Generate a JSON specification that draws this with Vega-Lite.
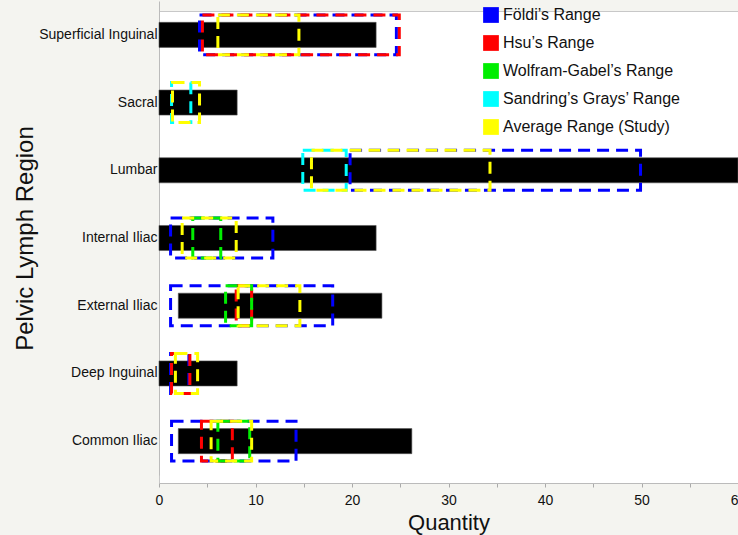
{
  "$schema": "https://vega.github.io/schema/vega-lite/v6.json",
  "width": 579,
  "height": 472,
  "autosize": {"type": "none"},
  "padding": {"left": 159, "top": 11, "right": 0, "bottom": 52},
  "background": "#f4f4f0",
  "config": {
    "view": {"fill": "white", "stroke": "#c8c8c8"},
    "font": "Liberation Sans"
  },
  "datasets": {
    "bars": [
      {"region": "Superficial Inguinal", "start": 0, "end": 22.5},
      {"region": "Sacral", "start": 0, "end": 8.1},
      {"region": "Lumbar", "start": 0, "end": 60},
      {"region": "Internal Iliac", "start": 0, "end": 22.5},
      {"region": "External Iliac", "start": 2, "end": 23.1},
      {"region": "Deep Inguinal", "start": 0, "end": 8.1},
      {"region": "Common Iliac", "start": 2, "end": 26.2}
    ],
    "ranges": [
      {"region": "Superficial Inguinal", "source": "Földi’s Range", "low": 4.2, "high": 24.6},
      {"region": "Lumbar", "source": "Földi’s Range", "low": 19.8, "high": 49.9},
      {"region": "Internal Iliac", "source": "Földi’s Range", "low": 1.2, "high": 11.8},
      {"region": "External Iliac", "source": "Földi’s Range", "low": 1.2, "high": 18},
      {"region": "Deep Inguinal", "source": "Földi’s Range", "low": 1.2, "high": 3.1},
      {"region": "Common Iliac", "source": "Földi’s Range", "low": 1.3, "high": 14.2},
      {"region": "Superficial Inguinal", "source": "Hsu’s Range", "low": 4.5, "high": 24.9},
      {"region": "External Iliac", "source": "Hsu’s Range", "low": 8, "high": 9.6},
      {"region": "Deep Inguinal", "source": "Hsu’s Range", "low": 1.3, "high": 3.2},
      {"region": "Common Iliac", "source": "Hsu’s Range", "low": 4.4, "high": 7.6},
      {"region": "Internal Iliac", "source": "Wolfram-Gabel’s Range", "low": 3.5, "high": 6.4},
      {"region": "External Iliac", "source": "Wolfram-Gabel’s Range", "low": 6.9, "high": 9.6},
      {"region": "Common Iliac", "source": "Wolfram-Gabel’s Range", "low": 6.1, "high": 9.4},
      {"region": "Sacral", "source": "Sandring’s Grays’ Range", "low": 1.3, "high": 3.3},
      {"region": "Lumbar", "source": "Sandring’s Grays’ Range", "low": 14.9, "high": 19.4},
      {"region": "Superficial Inguinal", "source": "Average Range (Study)", "low": 6.1, "high": 14.5},
      {"region": "Sacral", "source": "Average Range (Study)", "low": 1.4, "high": 4.2},
      {"region": "Lumbar", "source": "Average Range (Study)", "low": 15.8, "high": 34.3},
      {"region": "Internal Iliac", "source": "Average Range (Study)", "low": 2.4, "high": 8.0},
      {"region": "External Iliac", "source": "Average Range (Study)", "low": 8.2, "high": 14.6},
      {"region": "Deep Inguinal", "source": "Average Range (Study)", "low": 1.7, "high": 4.0},
      {"region": "Common Iliac", "source": "Average Range (Study)", "low": 5.4, "high": 9.6}
    ]
  },
  "layer": [
    {
      "data": {"name": "bars"},
      "mark": {"type": "bar", "color": "black", "height": {"band": 0.37}, "stroke": "#555", "strokeWidth": 0.6},
      "encoding": {
        "y": {
          "field": "region",
          "type": "nominal",
          "sort": ["Superficial Inguinal", "Sacral", "Lumbar", "Internal Iliac", "External Iliac", "Deep Inguinal", "Common Iliac"],
          "scale": {"range": [-10, 464], "paddingInner": 0, "paddingOuter": 0},
          "title": "Pelvic Lymph Region",
          "axis": {
            "domain": true,
            "domainColor": "#bbbbbb",
            "ticks": false,
            "labelPadding": 2,
            "labelFontSize": 14,
            "labelColor": "#111111",
            "titleFontSize": 24,
            "titleFontWeight": "normal",
            "titleColor": "#111111",
            "titlePadding": 1
          }
        },
        "x": {
          "field": "start",
          "type": "quantitative",
          "scale": {"domain": [0, 60], "nice": false},
          "title": "Quantity",
          "axis": {
            "values": [0, 5, 10, 15, 20, 25, 30, 35, 40, 45, 50, 55, 60],
            "labelExpr": "datum.value % 10 === 0 ? datum.label : ''",
            "grid": false,
            "tickSize": 4,
            "tickColor": "#aaaaaa",
            "domainColor": "#bbbbbb",
            "labelFontSize": 14,
            "labelColor": "#111111",
            "labelPadding": 6,
            "labelFlush": false,
            "titleFontSize": 22,
            "titleFontWeight": "normal",
            "titleColor": "#111111",
            "titlePadding": 5
          }
        },
        "x2": {"field": "end"}
      }
    },
    {
      "data": {"name": "ranges"},
      "mark": {"type": "bar", "filled": false, "strokeWidth": 3, "height": {"band": 0.59}},
      "encoding": {
        "y": {"field": "region", "type": "nominal", "sort": ["Superficial Inguinal", "Sacral", "Lumbar", "Internal Iliac", "External Iliac", "Deep Inguinal", "Common Iliac"]},
        "x": {"field": "low", "type": "quantitative"},
        "x2": {"field": "high"},
        "strokeDash": {"value": [12, 7]},
        "color": {
          "field": "source",
          "type": "nominal",
          "scale": {
            "domain": ["Földi’s Range", "Hsu’s Range", "Wolfram-Gabel’s Range", "Sandring’s Grays’ Range", "Average Range (Study)"],
            "range": ["#0000ff", "#ff0000", "#00ee00", "#00ffff", "#ffff00"]
          },
          "legend": {
            "orient": "none",
            "legendX": 324,
            "legendY": -4,
            "title": null,
            "symbolType": "square",
            "symbolSize": 60,
            "symbolStrokeWidth": 8,
            "symbolDash": [],
            "symbolOpacity": 1,
            "labelFontSize": 16,
            "labelColor": "#111111",
            "labelOffset": 4,
            "rowPadding": -16,
            "labelLimit": 300
          }
        }
      }
    }
  ]
}
